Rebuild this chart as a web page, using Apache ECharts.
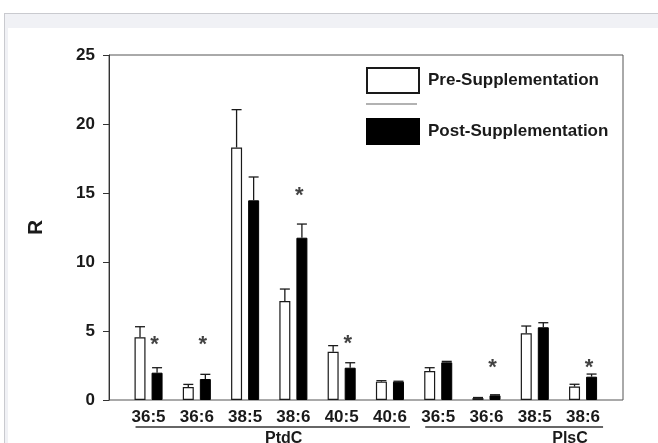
<!DOCTYPE html>
<html><head><meta charset="utf-8">
<script src="https://cdn.jsdelivr.net/npm/echarts@6/dist/echarts.min.js"></script>
<style>
html,body{margin:0;padding:0;background:#fff;width:658px;height:443px;overflow:hidden}
#frame{position:absolute;left:4px;top:13px;right:0;bottom:0;border-top:1px solid #c9cacf;border-left:1px solid #c9cacf;background:#f0f1f5}
#inner{position:absolute;left:8px;top:28px;right:0;bottom:0;background:#fff}
#chart{position:absolute;left:0;top:0;width:658px;height:443px}
</style></head><body>
<div id="frame"></div><div id="inner"></div><div id="chart"></div>
<script>
// ---- data ----
const lipidClass = ['PtdC','PtdC','PtdC','PtdC','PtdC','PtdC','PlsC','PlsC','PlsC','PlsC'];
const species    = ['36:5','36:6','38:5','38:6','40:5','40:6','36:5','36:6','38:5','38:6'];
const preValues  = [4.54, 0.94, 18.3, 7.17, 3.50, 1.33, 2.10, 0.14, 4.83, 0.97];
const preSem     = [0.77, 0.19, 2.74, 0.87, 0.44, 0.07, 0.24, 0.04, 0.53, 0.17];
const postValues = [1.98, 1.52, 14.47, 11.76, 2.34, 1.33, 2.73, 0.34, 5.27, 1.69];
const postSem    = [0.36, 0.34, 1.69, 0.99, 0.36, 0.03, 0.07, 0.04, 0.33, 0.19];
const starValues = [4.35, 4.35, null, 15.14, 4.40, null, null, 2.66, null, 2.66];
const groupNames = ['PtdC','PlsC'];
const groupLabelAt = [2.8, 8.73];
const yTicks = [0, 5, 10, 15, 20, 25];
const seriesNames = ['Pre-Supplementation','Post-Supplementation'];

// ---- style ----
const BAR_W = 11, BAR_GAP = 0.55;
const OFF = (BAR_W + BAR_W*BAR_GAP)/2;
const FONT = 'Liberation Sans, Arial, sans-serif';
const categories = species.map((s,i)=>lipidClass[i]+'|'+s);

function errRender(offset){
  return function(params, api){
    const i = api.value(0), v = api.value(1), e = api.value(2);
    const b = api.coord([i, v]), t = api.coord([i, v+e]);
    const x = b[0] + offset;
    const st = {stroke:'#1a1a1a', lineWidth:1.3};
    return {type:'group', children:[
      {type:'line', shape:{x1:x,y1:b[1],x2:x,y2:t[1]}, style:st},
      {type:'line', shape:{x1:x-5,y1:t[1],x2:x+5,y2:t[1]}, style:st}
    ]};
  };
}

const chart = echarts.init(document.getElementById('chart'), null, {renderer:'canvas'});
const option = {
  backgroundColor:'transparent',
  animation:false,
  textStyle:{fontFamily:FONT},
  grid:[
    {left:124.4, width:482.8, top:55, height:345},
    {left:109, width:514, top:55, height:345, show:true, borderColor:'#555', borderWidth:1, backgroundColor:'transparent'}
  ],
  legend:{
    orient:'vertical', left:366, top:67, padding:0, icon:'rect',
    itemWidth:52, itemHeight:25, itemGap:24,
    data:seriesNames,
    textStyle:{fontFamily:FONT, fontWeight:'bold', fontSize:17, color:'#1a1a1a', padding:[0,0,0,4]}
  },
  xAxis:[
    {type:'category', gridIndex:0, data:categories,
     axisLine:{show:false}, axisTick:{show:false},
     axisLabel:{formatter:v=>v.split('|')[1], fontFamily:FONT, fontWeight:'bold', fontSize:17, color:'#1a1a1a', margin:9, interval:0}},
    {type:'value', gridIndex:1, show:false, min:0, max:1}
  ],
  yAxis:[
    {type:'value', gridIndex:0, show:false, min:yTicks[0], max:yTicks[yTicks.length-1]},
    {type:'value', gridIndex:1, min:yTicks[0], max:yTicks[yTicks.length-1], interval:yTicks[1]-yTicks[0],
     name:'R', nameLocation:'middle', nameGap:62, nameRotate:90,
     nameTextStyle:{fontFamily:FONT, fontWeight:'bold', fontSize:21, color:'#1a1a1a'},
     axisLine:{show:true, lineStyle:{color:'#333', width:1}},
     axisTick:{show:true, inside:false, length:6, lineStyle:{color:'#333'}},
     axisLabel:{fontFamily:FONT, fontWeight:'bold', fontSize:17, color:'#1a1a1a', margin:14},
     splitLine:{show:false}}
  ],
  series:[
    {name:seriesNames[0], type:'bar', xAxisIndex:0, yAxisIndex:0, data:preValues,
     barWidth:BAR_W, barGap:(BAR_GAP*100)+'%',
     itemStyle:{color:'#fff', borderColor:'#1a1a1a', borderWidth:1.2}},
    {name:seriesNames[1], type:'bar', xAxisIndex:0, yAxisIndex:0, data:postValues,
     barWidth:BAR_W, barGap:(BAR_GAP*100)+'%',
     itemStyle:{color:'#000', borderColor:'#000', borderWidth:1}},
    {type:'custom', xAxisIndex:0, yAxisIndex:0, renderItem:errRender(-OFF),
     data:preValues.map((v,i)=>[i,v,preSem[i]]), encode:{x:0,y:1}, z:3},
    {type:'custom', xAxisIndex:0, yAxisIndex:0, renderItem:errRender(OFF),
     data:postValues.map((v,i)=>[i,v,postSem[i]]), encode:{x:0,y:1}, z:3},
    {type:'scatter', xAxisIndex:0, yAxisIndex:0, symbolSize:1,
     itemStyle:{color:'rgba(0,0,0,0)'},
     data:starValues.map((v,i)=>v==null?null:[i,v]).filter(d=>d),
     label:{show:true, formatter:'*', position:'inside', offset:[6,5],
       fontFamily:FONT, fontWeight:'bold', fontSize:22, color:'#111'}, z:4}
  ]
};
chart.setOption(option);

// group underline brackets and group names, positioned through the category scale
const gfx = [];
groupNames.forEach((g,gi)=>{
  const idx = lipidClass.map((c,i)=>c===g?i:-1).filter(i=>i>=0);
  const x0 = chart.convertToPixel({xAxisIndex:0}, categories[idx[0]]);
  const x1 = chart.convertToPixel({xAxisIndex:0}, categories[idx[idx.length-1]]);
  const step = chart.convertToPixel({xAxisIndex:0}, categories[1]) - chart.convertToPixel({xAxisIndex:0}, categories[0]);
  const yBase = chart.convertToPixel({yAxisIndex:0}, 0);
  const lx = chart.convertToPixel({xAxisIndex:0}, categories[0]) + groupLabelAt[gi]*step;
  gfx.push({type:'line', shape:{x1:x0-13, y1:yBase+27, x2:x1+20, y2:yBase+27}, style:{stroke:'#333', lineWidth:1.5}, silent:true});
  gfx.push({type:'text', x:lx, y:yBase+31, style:{text:g, fill:'#1a1a1a', font:'bold 16px '+FONT, textAlign:'center', textVerticalAlign:'top'}, silent:true});
});
// separator line in legend
gfx.push({type:'line', shape:{x1:366, y1:104, x2:417, y2:104}, style:{stroke:'#999', lineWidth:1.5}, silent:true});
chart.setOption({graphic:gfx});
</script>
</body></html>
